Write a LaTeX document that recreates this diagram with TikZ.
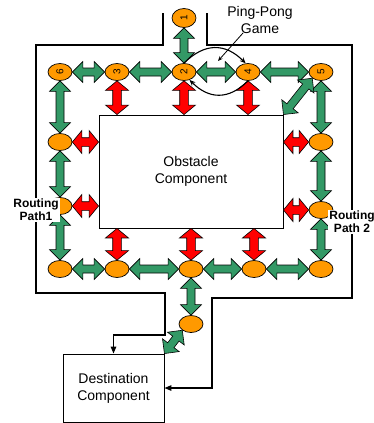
\documentclass[tikz,border=0pt]{standalone}
\usepackage{fontspec}
\setmainfont{Liberation Sans}
\usetikzlibrary{calc,arrows.meta,shapes.geometric}
\definecolor{gfill}{HTML}{339966}
\definecolor{ofill}{HTML}{FF9900}
\definecolor{rfill}{HTML}{FF0000}
% #1 style, #2 from, #3 to, #4 shaft half width, #5 head half width, #6 head length
\newcommand\barrow[6]{%
  \draw[#1] let \p1=#2, \p2=#3,
    \n1={atan2(\y2-\y1,\x2-\x1)},
    \n2={veclen(\x2-\x1,\y2-\y1)} in
    [shift={(\p1)}, rotate=\n1]
    (0,0) -- (#6,#5) -- (#6,#4) -- (\n2-#6,#4) -- (\n2-#6,#5) -- (\n2,0)
    -- (\n2-#6,-#5) -- (\n2-#6,-#4) -- (#6,-#4) -- (#6,-#5) -- cycle;
}
\newcommand\garrow[2]{\barrow{gar}{#1}{#2}{4}{10.5}{10.5}}
\newcommand\rarrow[2]{\barrow{rar}{#1}{#2}{4.3}{11.5}{9.5}}
\begin{document}
\begin{tikzpicture}[x=1pt,y=-1pt,
  ell/.style={ellipse, draw=black, line width=0.7pt, fill=ofill, minimum width=24pt, minimum height=17pt, inner sep=0pt, font=\fontsize{10}{10}\selectfont},
  gar/.style={fill=gfill, draw=black, line width=0.6pt},
  rar/.style={fill=rfill, draw=black, line width=0.6pt},
  wire/.style={line width=1.3pt, -{Triangle[length=7pt,width=5.5pt]}},
  box/.style={draw, line width=0.9pt, fill=white, inner sep=0pt, align=center, font=\fontsize{14}{17}\selectfont},
  lbl/.style={font=\fontsize{14}{17}\selectfont, align=center},
  rlbl/.style={font=\bfseries\fontsize{12}{13}\selectfont, align=center, fill=white, inner sep=1.5pt}]
\useasboundingbox (0,0) rectangle (374,423);

% component boxes
\node[box, minimum width=184pt, minimum height=113pt] (obs) at (191,171.5) {Obstacle\\Component};
\node[box, minimum width=101pt, minimum height=68pt] (dest) at (113.5,388) {Destination\\Component};

% outer routing borders
\coordinate (lt) at (163,13);
\coordinate (rt) at (207,13);
\draw[wire] (lt) -- (163,45) -- (36,45) -- (36,293) -- (165,293) -- (165,335)
  -- (dest.north |- 0,335) -- (dest.north);
\draw[wire] (rt) -- (207,45) -- (352,45) -- (352,298) -- (212,298) |- (dest.east);

% router nodes
\node[ell, minimum height=19pt] (n1) at (184,18) {\rotatebox{90}{1}};
\node[ell] (n2) at (184,72) {\rotatebox{90}{2}};
\node[ell] (n3) at (117,72) {\rotatebox{90}{3}};
\node[ell] (n4) at (248,72) {\rotatebox{90}{4}};
\node[ell] (n5) at (321,72) {\rotatebox{90}{5}};
\node[ell] (n6) at (60,72) {\rotatebox{90}{6}};
\node[ell] (l1) at (60,142) {};
\node[ell] (l2) at (60,206) {};
\node[ell] (l3) at (60,269) {};
\node[ell] (r1) at (321,142) {};
\node[ell] (r2) at (321,210) {};
\node[ell] (r3) at (321,269) {};
\node[ell] (b1) at (117,269) {};
\node[ell] (b2) at (191,269) {};
\node[ell] (b3) at (254,269) {};
\node[ell] (b4) at (191,324) {};

% green links
\garrow{(n1.south)}{(n2.north)}
\garrow{(n6.east)}{(n3.west)}
\garrow{(n3.east)}{(n2.west)}
\garrow{(n2.east)}{(n4.west)}
\garrow{(n4.east)}{(n5.west)}
\garrow{(n6.south)}{(l1.north)}
\garrow{(l1.south)}{(l2.north)}
\garrow{(l2.south)}{(l3.north)}
\garrow{(n5.south)}{(r1.north)}
\garrow{(r1.south)}{(r2.north)}
\garrow{(r2.south)}{(r3.north)}
\garrow{(l3.east)}{(b1.west)}
\garrow{(b1.east)}{(b2.west)}
\garrow{(b2.east)}{(b3.west)}
\garrow{(b3.east)}{(r3.west)}
\garrow{(b2.south)}{(b4.north)}
\garrow{(n5.south west)}{(obs.north east)}
\garrow{(b4.south west)}{(dest.north east)}

% red (blocked) links
\rarrow{(n3.south)}{(n3 |- obs.north)}
\rarrow{(n2.south)}{(n2 |- obs.north)}
\rarrow{(n4.south)}{(n4 |- obs.north)}
\rarrow{(l1.east)}{(obs.west |- l1)}
\rarrow{(l2.east)}{(obs.west |- l2)}
\rarrow{(r1.west)}{(obs.east |- r1)}
\rarrow{(r2.west)}{(obs.east |- r2)}
\rarrow{(b1.north)}{(b1 |- obs.south)}
\rarrow{(b2.north)}{(b2 |- obs.south)}
\rarrow{(b3.north)}{(b3 |- obs.south)}

% ping-pong arcs
\draw[line width=1.1pt, -{Stealth[length=6pt,width=5pt]}] (n2.north) to[out=45,in=135,looseness=1.2] (n4.105);
\draw[line width=1.1pt, -{Stealth[length=6pt,width=5pt]}] (n4.south) to[out=-135,in=-45,looseness=1.2] (n2.-55);

% labels
\node[lbl] (pp) at (260,20) {Ping-Pong\\Game};
\coordinate (pps) at (243,33);
\coordinate (ppt) at (218,61);
\draw[line width=0.8pt, -{Stealth[length=5pt,width=4pt]}] (pps) -- (ppt);

\node[rlbl] (rp1) at (36,210) {Routing\\Path1};
\node[rlbl] (rp2) at (352,222) {Routing\\Path 2};
\end{tikzpicture}
\end{document}
